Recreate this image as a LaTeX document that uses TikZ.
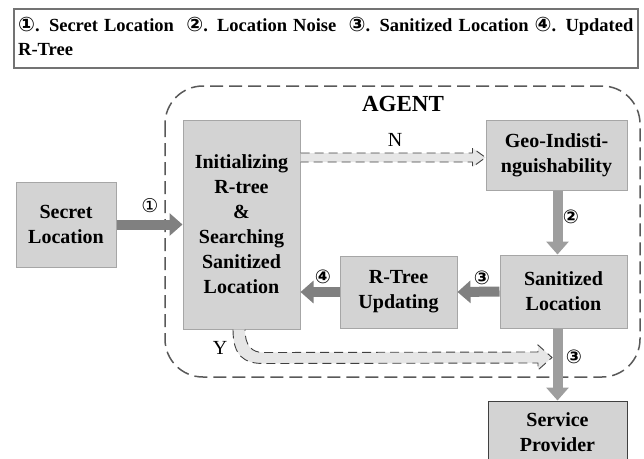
\documentclass[tikz,border=0pt]{standalone}
\usepackage{fontspec}
\setmainfont{Liberation Serif}
\newfontfamily\circfont{DejaVu Sans}
\usepackage{tikz}
\usetikzlibrary{arrows.meta,positioning}
\usetikzlibrary{calc}
\definecolor{boxgray}{HTML}{D3D3D3}
\definecolor{boxline}{HTML}{A6A6A6}
\definecolor{darkarrow}{HTML}{808080}
\definecolor{lightarrow}{HTML}{9E9E9E}
\definecolor{hollowgray}{HTML}{E6E6E6}
\definecolor{dashgray}{HTML}{595959}
\newcommand{\boxfont}{\fontsize{20}{25}\selectfont\bfseries}
\tikzstyle{block} = [rectangle, draw=boxline, fill=boxgray, line width=1pt, align=center, font=\boxfont]
\tikzstyle{agentbox} = [draw=dashgray, line width=1.5pt, dash pattern=on 13pt off 6pt, rounded corners=38pt]
\tikzstyle{darkflow} = [draw=darkarrow, line width=10pt, -{Triangle[length=13pt,width=22pt]}]
\tikzstyle{lightflow} = [draw=lightarrow, line width=10pt, -{Triangle[length=13pt,width=22pt]}]
\tikzstyle{hollow} = [draw=black!75, line width=0.9pt, dash pattern=on 9pt off 5pt, preaction={fill=hollowgray}]
\tikzstyle{num} = [font=\circfont\bfseries\fontsize{19}{19}\selectfont]
\tikzstyle{label} = [font=\fontsize{20}{20}\selectfont]

\begin{document}
\begin{tikzpicture}[x=1pt,y=-1pt]
    \useasboundingbox (0,0) rectangle (644,458);
    \clip (0,0) rectangle (644,458);

    % legend
    \draw[draw=black!55, line width=1.5pt] (14,9) rectangle (638,68);
    \node[anchor=north west, text width=618pt, align=left, inner sep=0pt,
          font=\fontsize{18.5}{24}\selectfont\bfseries] (legend) at (18,17)
        {{\circfont\fontsize{20}{20}\selectfont①}. Secret Location\ \ {\circfont\fontsize{20}{20}\selectfont②}. Location Noise\ \ {\circfont\fontsize{20}{20}\selectfont③}. Sanitized Location {\circfont\fontsize{20}{20}\selectfont④}. Updated\\R-Tree};

    % agent
    \draw[agentbox] (165,86) rectangle (640,377);
    \node[font=\fontsize{23}{23}\selectfont\bfseries] (agent) at (403,104) {AGENT};

    \node[block, minimum width=100pt, minimum height=85pt] (secret) at (66,224.5) {Secret\\Location};
    \node[block, minimum width=117pt, minimum height=209pt] (init) at (241.5,224.5)
        {Initializing\\R-tree\\\&\\Searching\\Sanitized\\Location};
    \node[block, minimum width=141pt, minimum height=70pt] (geo) at (556.5,155) {Geo-Indisti-\\nguishability};
    \node[block, minimum width=127pt, minimum height=73pt] (sanit) at (563.5,291.5) {Sanitized\\Location};
    \node[block, minimum width=117pt, minimum height=72pt] (rtree) at (398.5,292) {R-Tree\\Updating};
    \node[block, draw=black!75, minimum width=139pt, minimum height=62pt] (provider) at (557.5,432) {Service\\Provider};

    \coordinate (ntip) at ($(geo.west)+(0,2.5)$);
    \coordinate (ytip) at (552,357.5);

    % main flow
    \draw[darkflow] (secret.east) -- (init.west);
    \node[font=\circfont\fontsize{19}{19}\selectfont] (n1) at (150,206) {①};
    \draw[lightflow] (geo.south -| provider.north) -- (sanit.north -| provider.north);
    \node[num] (n2) at (571,217) {②};
    \draw[darkflow] (sanit.west) -- (rtree.east);
    \node[num] (n3a) at (482,278) {③};
    \draw[darkflow] (rtree.west) -- (rtree.west -| init.east);
    \node[num] (n4) at (323,277) {④};
    \draw[lightflow] (sanit.south -| provider.north) -- (provider.north);
    \node[num] (n3b) at (574,357) {③};

    % N / Y branches
    \draw[hollow] ($(init.east |- ntip)+(0,-4.5)$) -- ($(ntip)+(-13,-4.5)$) -- ($(ntip)+(-13,-9.5)$)
        -- (ntip) -- ($(ntip)+(-13,9.5)$) -- ($(ntip)+(-13,4.5)$) -- ($(init.east |- ntip)+(0,4.5)$);
    \node[label] (nlabel) at (395,140) {N};

    \draw[hollow] ($(init.south)+(-8.5,0)$) .. controls +(0,26) and +(-20,0) .. ($(init.south)+(22,34)$)
        -- ($(ytip)+(-14,5.5)$) -- ($(ytip)+(-14,12.5)$) -- (ytip) -- ($(ytip)+(-14,-12.5)$)
        -- ($(ytip)+(-14,-5.5)$) -- ($(init.south)+(22,23)$) .. controls +(-12,0) and +(0,16) .. ($(init.south)+(3.5,0)$);
    \node[label] (ylabel) at (220,348) {Y};
\end{tikzpicture}
\end{document}
